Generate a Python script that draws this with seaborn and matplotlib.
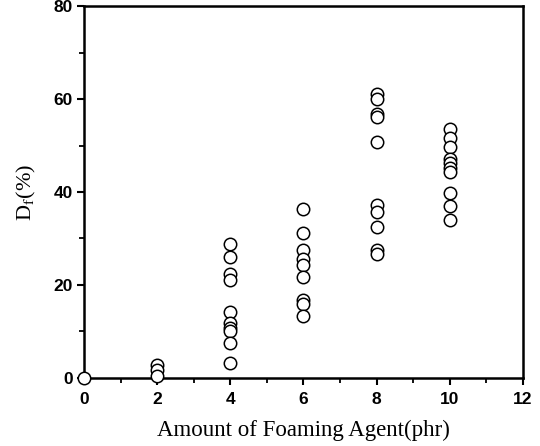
import pandas as pd
import matplotlib
matplotlib.use("Agg")
import matplotlib.pyplot as plt
import seaborn as sns

# Df(%) readings for each amount of foaming agent (phr)
agent_0 = [0.0]
agent_2 = [2.8, 1.7, 0.5]
agent_4 = [28.8, 26.0, 22.4, 21.1, 14.1, 11.8, 10.7, 10.2, 7.5, 3.2]
agent_6 = [36.3, 31.2, 27.6, 25.6, 24.4, 21.7, 16.8, 16.0, 13.4]
agent_8 = [61.0, 60.0, 56.8, 56.2, 50.7, 37.2, 35.8, 32.5, 27.6, 26.7]
agent_10 = [53.5, 51.6, 49.6, 47.1, 46.2, 45.1, 44.4, 39.8, 37.0, 34.0]

x_ticks = [0, 2, 4, 6, 8, 10, 12]
y_ticks = [0, 20, 40, 60, 80]


def main():
    groups = {0: agent_0, 2: agent_2, 4: agent_4, 6: agent_6, 8: agent_8, 10: agent_10}
    rows = [(amt, v) for amt, vals in groups.items() for v in vals]
    df = pd.DataFrame(rows, columns=["phr", "Df"])

    sns.set_style("ticks")
    plt.rcParams["font.family"] = ["Liberation Sans", "DejaVu Sans"]
    plt.rcParams["mathtext.fontset"] = "stix"
    plt.rcParams["axes.labelcolor"] = "black"

    fig = plt.figure(figsize=(5.4, 4.46), dpi=100)
    ax = fig.add_axes([0.1555, 0.1525, 0.813, 0.834])

    sns.scatterplot(data=df, x="phr", y="Df", ax=ax, s=80, marker="o",
                    facecolor="white", edgecolor="black", linewidth=1.1,
                    clip_on=False, zorder=3)

    ax.set_xlim(0, 12)
    ax.set_ylim(0, 80)
    ax.set_xticks(x_ticks)
    ax.set_yticks(y_ticks)
    ax.set_xticks(range(1, 12, 2), minor=True)
    ax.set_yticks(range(10, 80, 20), minor=True)
    ax.tick_params(axis="both", which="major", direction="out", length=5, width=1.5,
                   labelsize=12.5, colors="black")
    ax.tick_params(axis="x", which="major", pad=5)
    ax.tick_params(axis="y", which="major", pad=3)
    ax.tick_params(axis="both", which="minor", direction="out", length=3.5, width=1.3,
                   colors="black")
    for lab in ax.get_xticklabels() + ax.get_yticklabels():
        lab.set_fontweight("bold")

    for side in ["left", "right", "top", "bottom"]:
        ax.spines[side].set_visible(True)
        ax.spines[side].set_linewidth(1.8)
        ax.spines[side].set_color("black")

    ax.set_xlabel("Amount of Foaming Agent(phr)", family="Liberation Serif",
                  fontsize=16.5, labelpad=9, color="black")
    ax.set_ylabel(r"D$_\mathrm{f}$(%)", family="Liberation Serif",
                  fontsize=16, labelpad=11, color="black")

    fig.savefig("out.png", dpi=100)


if __name__ == "__main__":
    main()
